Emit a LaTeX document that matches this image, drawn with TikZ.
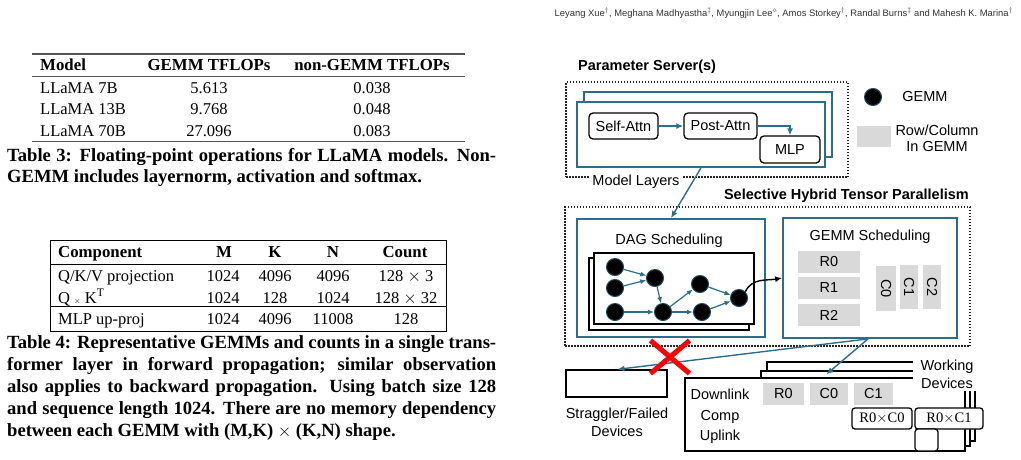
\documentclass[tikz,border=0pt]{standalone}
\usepackage{fontspec}
\setmainfont{Liberation Serif}
\setsansfont{Liberation Sans}
\usetikzlibrary{arrows.meta,positioning,calc,shapes.misc}
\definecolor{layerteal}{HTML}{2C6D8C}
\definecolor{cellgray}{HTML}{D9D9D9}
\definecolor{rulegray}{HTML}{555555}
\definecolor{gemmedge}{HTML}{1B4A60}

\begin{document}
\begin{tikzpicture}[x=1pt,y=-1pt,
    tabtxt/.style={font=\fontsize{16.5}{20}\selectfont,inner sep=0pt,anchor=base},
    tabhd/.style={font=\fontsize{16.8}{20}\selectfont\bfseries,inner sep=0pt,anchor=base},
    captxt/.style={font=\fontsize{18.6}{22}\selectfont\bfseries,inner sep=0pt,anchor=base west},
    lbl/.style={font=\sffamily\fontsize{14.5}{17.5}\selectfont,inner sep=1pt,align=center},
    lblb/.style={font=\sffamily\bfseries\fontsize{14.5}{17.5}\selectfont,inner sep=1pt},
    dotbox/.style={draw=black!85,line width=1.5pt,dash pattern=on 1.5pt off 1.5pt,inner sep=0pt},
    tealbox/.style={draw=layerteal,fill=white,line width=1.8pt,inner sep=0pt},
    blkbox/.style={draw=black,fill=white,line width=1.3pt,inner sep=0pt},
    opbox/.style={draw=black,fill=white,line width=1.3pt,rounded corners=4pt,inner sep=0pt,
                  font=\sffamily\fontsize{14.5}{17.5}\selectfont},
    gemm/.style={circle,fill=black,draw=gemmedge,line width=1pt,minimum size=17pt,inner sep=0pt},
    cell/.style={fill=cellgray,inner sep=0pt,font=\sffamily\fontsize{14.5}{17.5}\selectfont},
    mulbox/.style={draw=black,fill=white,line width=1.3pt,rounded corners=3pt,inner sep=0pt,
                   font=\fontsize{14.5}{17.5}\selectfont},
    arr/.style={-{Latex[length=7pt,width=6pt]},layerteal,line width=1.4pt},
    blkarr/.style={-{Latex[length=7pt,width=6pt]},black,line width=1.4pt},
    tabrule/.style={rulegray,line width=1.4pt}]
  \useasboundingbox (0,0) rectangle (1021,459);

  % running head
  \node[anchor=east,inner sep=0pt,text=black!80,font=\sffamily\fontsize{9.4}{12}\selectfont] (authors) at (1013,13)
    {Leyang Xue$^\dagger$, Meghana Madhyastha$^\ddagger$, Myungjin Lee$^\diamond$, Amos Storkey$^\dagger$, Randal Burns$^\ddagger$ and Mahesh K. Marina$^\dagger$};

  % Table 3
  \draw[tabrule] (32,54) -- (465,54);
  \draw[tabrule,line width=0.9pt] (32,76.5) -- (465,76.5);
  \draw[tabrule] (32,141.5) -- (465,141.5);
  \node[tabhd,anchor=base west] (t3model) at (40,70) {Model};
  \node[tabhd] (t3gemm) at (209,70) {GEMM TFLOPs};
  \node[tabhd] (t3non) at (372,70) {non-GEMM TFLOPs};
  \foreach \m/\g/\n [count=\r] in {LLaMA 7B/5.613/0.038,LLaMA 13B/9.768/0.048,LLaMA 70B/27.096/0.083} {
    \node[tabtxt,anchor=base west] (t3m\r) at (40,71.5+21.5*\r) {\m};
    \node[tabtxt] (t3g\r) at (209,71.5+21.5*\r) {\g};
    \node[tabtxt] (t3n\r) at (372,71.5+21.5*\r) {\n};
  }
  \node[captxt] (cap3a) at (7,161) {\makebox[489pt][s]{Table 3: Floating-point operations for LLaMA models. Non-}};
  \node[captxt] (cap3b) at (7,182) {GEMM includes layernorm, activation and softmax.};

  % Table 4
  \draw[line width=1pt] (50,240) rectangle (446,331);
  \draw[line width=1pt] (50,264) -- (446,264);
  \draw[line width=1pt] (50,306) -- (446,306);
  \node[tabhd,anchor=base west] (t4comp) at (58,257.5) {Component};
  \node[tabhd] (t4m) at (224,257.5) {M};
  \node[tabhd] (t4k) at (275,257.5) {K};
  \node[tabhd] (t4n) at (333,257.5) {N};
  \node[tabhd] (t4cnt) at (405,257.5) {Count};
  \foreach \c/\m/\k/\n/\cnt [count=\r] in {{Q/K/V projection}/1024/4096/4096/{128 $\times$ 3},
      {Q {\footnotesize$\times$} K$^{\mathrm{T}}$}/1024/128/1024/{128 $\times$ 32},
      {MLP up-proj}/1024/4096/11008/128} {
    \pgfmathsetmacro{\yb}{\r==3 ? 324.5 : 260+21.5*\r}
    \node[tabtxt,anchor=base west] (t4c\r) at (58,\yb) {\c};
    \node[tabtxt] (t4m\r) at (223,\yb) {\m};
    \node[tabtxt] (t4k\r) at (275,\yb) {\k};
    \node[tabtxt] (t4n\r) at (333,\yb) {\n};
    \node[tabtxt] (t4t\r) at (406,\yb) {\cnt};
  }
  \node[captxt] (cap4a) at (7,348.5) {\makebox[489pt][s]{Table 4: Representative GEMMs and counts in a single trans-}};
  \node[captxt] (cap4b) at (7,370.5) {\makebox[489pt][s]{former layer in forward propagation; similar observation}};
  \node[captxt] (cap4c) at (7,392.5) {\makebox[489pt][s]{also applies to backward propagation. Using batch size 128}};
  \node[captxt] (cap4d) at (7,414.5) {\makebox[489pt][s]{and sequence length 1024. There are no memory dependency}};
  \node[captxt] (cap4e) at (7,436.5) {between each GEMM with (M,K) $\times$ (K,N) shape.};

  % parameter server
  \node[dotbox,minimum width=282pt,minimum height=95pt] (psbox) at (707,129.5) {};
  \node[lblb,anchor=west] (pslabel) at (577,67) {Parameter Server(s)};
  \node[tealbox,minimum width=248pt,minimum height=65pt] (mlback) at (708,124.5) {};
  \node[tealbox,minimum width=248pt,minimum height=65pt] (mlfront) at (701,134.5) {};
  \node[opbox,minimum width=69pt,minimum height=26pt] (selfattn) at (623.5,126) {Self-Attn};
  \node[opbox,minimum width=73pt,minimum height=26pt] (postattn) at (720.5,126) {Post-Attn};
  \node[opbox,minimum width=60pt,minimum height=27pt] (mlp) at (790,149.5) {MLP};
  \draw[arr] (selfattn) -- (postattn);
  \draw[arr] (postattn.east) -| (mlp.north);
  \node[lbl,fill=white,inner sep=3pt] (mllabel) at (636,182) {Model Layers};

  % legend
  \node[gemm] (lgemm) at (873,97) {};
  \node[lbl] (lgemmtxt) at (925,97) {GEMM};
  \node[cell,minimum width=34pt,minimum height=21pt] (lcell) at (874,136.5) {};
  \node[lbl,font=\sffamily\fontsize{14.5}{16}\selectfont] (lcelltxt) at (937,138) {Row/Column\\In GEMM};

  % selective hybrid tensor parallelism
  \node[dotbox,minimum width=405pt,minimum height=139pt] (shbox) at (767.5,276.5) {};
  \node[lblb,anchor=east] (shlabel) at (970,196) {Selective Hybrid Tensor Parallelism};
  \node[tealbox,minimum width=188pt,minimum height=118pt] (dag) at (671,278) {};
  \node[lbl] (daglabel) at (669,241) {DAG Scheduling};
  \node[blkbox,minimum width=160pt,minimum height=72pt] (dagback) at (669,294) {};
  \node[blkbox,minimum width=160pt,minimum height=71pt] (dagfront) at (674,288.5) {};
  \foreach \n/\p in {n1/{615,267},n2/{615,288},n3/{615,312},n4/{655,278},
                     n5/{663,312},n6/{700,284},n7/{702,312},n8/{739,298}}
    \node[gemm] (\n) at (\p) {};
  \foreach \a/\b in {n1/n4,n2/n4,n4/n5,n3/n5,n5/n6,n5/n7,n6/n8,n7/n8}
    \draw[arr,line width=1.2pt,-{Latex[length=6pt,width=5pt]}] (\a) -- (\b);
  \draw[arr] (mlfront.south) -- (dag.north);

  \node[tealbox,minimum width=174pt,minimum height=120pt] (gemmbox) at (870,278) {};
  \node[lbl] (gemmlabel) at (870,237) {GEMM Scheduling};
  \node[cell,minimum width=62pt,minimum height=22pt] (r0) at (829,262) {R0};
  \node[cell,minimum width=62pt,minimum height=22pt] (r1) at (829,288) {R1};
  \node[cell,minimum width=62pt,minimum height=22pt] (r2) at (829,315) {R2};
  \node[cell,minimum width=20pt,minimum height=45pt] (c0) at (886,288.5) {\rotatebox{-90}{C0}};
  \node[cell,minimum width=18pt,minimum height=44pt] (c1) at (909,287) {\rotatebox{-90}{C1}};
  \node[cell,minimum width=18pt,minimum height=44pt] (c2) at (932,287) {\rotatebox{-90}{C2}};
  \draw[blkarr] (n8.north east) to[out=65,in=190] (gemmbox.west);

  % devices
  \node[blkbox,minimum width=101pt,minimum height=27pt] (straggler) at (616.5,383.5) {};
  \node[lbl,font=\sffamily\fontsize{14.5}{18}\selectfont] (stragglertxt) at (617,422) {Straggler/Failed\\Devices};
  \node[blkbox,minimum width=208pt,minimum height=79pt] (wd3) at (871,401.5) {};
  \node[blkbox,minimum width=209pt,minimum height=75pt] (wd2) at (865.5,408.5) {};
  \node[blkbox,minimum width=280pt,minimum height=73pt] (wd1) at (825,414.5) {};
  \node[lbl,fill=white,inner xsep=8pt,inner ysep=3pt,font=\sffamily\fontsize{14.5}{18}\selectfont] (wdlabel) at (947,374) {Working\\Devices};
  \node[lbl] (downlink) at (720,394) {Downlink};
  \node[lbl] (comp) at (720,417) {Comp};
  \node[lbl] (uplink) at (720,437) {Uplink};
  \node[cell,minimum width=41pt,minimum height=22pt] (wr0) at (783.5,394) {R0};
  \node[cell,minimum width=38pt,minimum height=22pt] (wc0) at (829,394) {C0};
  \node[cell,minimum width=39pt,minimum height=22pt] (wc1) at (873.5,394) {C1};
  \node[mulbox,minimum width=60pt,minimum height=21pt] (rc0) at (882,418.5) {R0$\times$C0};
  \node[mulbox,minimum width=68pt,minimum height=21pt] (rc1) at (949,418.5) {R0$\times$C1};
  \node[mulbox,minimum width=23pt,minimum height=22pt] (sq) at (926.5,440) {};
  \draw[arr] ($(gemmbox.south)+(-2,0)$) -- ($(straggler.north)+(1,0)$);
  \draw[arr] ($(gemmbox.south)+(-2,0)$) -- ($(wd2.north west)+(66,4)$);
  \node[cross out,draw=red,line width=5pt,minimum width=34pt,minimum height=28pt] (fail) at (670,357) {};
\end{tikzpicture}
\end{document}
